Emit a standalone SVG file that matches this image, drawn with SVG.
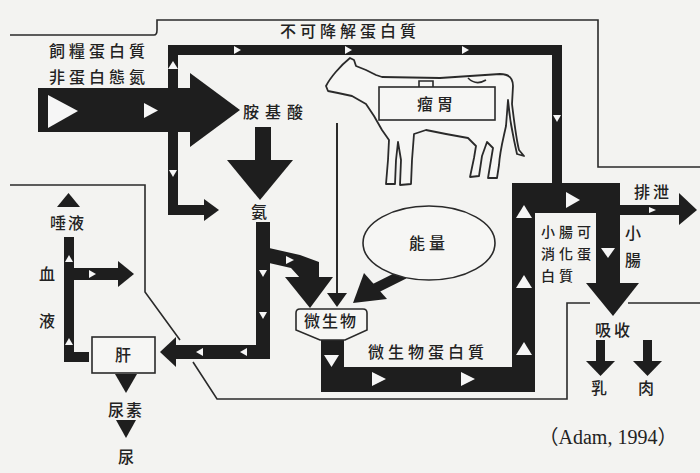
<svg xmlns="http://www.w3.org/2000/svg" width="700" height="473" viewBox="0 0 700 473">
  <defs>
    <style>
      .bg { fill: #f3f3f1; }
      .ink { fill: #1e1e1e; }
      .bar { fill: none; stroke: #1e1e1e; stroke-linejoin: miter; }
      .thin { fill: none; stroke: #2a2a2a; stroke-width: 1.6; }
      .mk { fill: #f6f6f6; }
      .box { fill: #f6f6f4; stroke: #2a2a2a; stroke-width: 1.6; }
      .cow { fill: #f6f6f4; stroke: #2a2a2a; stroke-width: 1.8; stroke-linejoin: round; }
      text { font-family: "Noto Sans CJK TC", "Noto Sans CJK SC", sans-serif; fill: #222; font-size: 16px; font-weight: 500; }
      .c { text-anchor: middle; }
      .sm { font-size: 14px; letter-spacing: 4px; }
      .cite { font-family: "Liberation Serif", "Noto Sans CJK TC", serif; font-size: 20px; font-weight: normal; }
    </style>
  </defs>

  <rect class="bg" x="0" y="0" width="700" height="473"/>

  <!-- boundary lines of the animal body -->
  <g id="boundary">
    <path class="thin" d="M10 35 H154 Q157 35 157 30 V20 H598 V167 H700"/>
    <path class="thin" d="M10 185 H145 V292 L180 340"/>
    <path class="thin" d="M193 362 L217 399 H567 V303 H590"/>
    <path class="thin" d="M628 303 H700"/>
  </g>

  <!-- cow with rumen -->
  <g id="cow">
    <path class="cow" d="M326 86 C330 78 340 66 350 58 L354 60 L356 66 L366 70 L376 75 L382 77 L440 78 L470 76 L500 74 C508 74 513 78 513 86 L512 104 C514 120 516 138 519 150 L524 156 L517 154 L514 140 C511 126 509 112 508 100 L506 126 C503 140 500 150 499 165 L497 178 L488 178 L491 160 L493 148 L487 142 L482 156 L479 176 L470 177 L474 158 L476 146 L468 138 L446 134 L426 130 L414 134 L412 160 L411 184 L400 185 L401 160 L398 142 L396 160 L395 184 L386 184 L388 160 L389 140 L382 130 L374 116 L366 104 L352 96 L338 93 L328 91 Z"/>
    <path class="thin" d="M419 87 V81 H433 V87"/>
    <path class="thin" d="M468 78 Q476 86 486 80"/>
  </g>

  <g id="rumen">
    <rect class="box" x="379" y="87" width="116" height="33"/>
    <text class="c" x="437" y="110" letter-spacing="4">瘤胃</text>
  </g>

  <!-- flow connectors -->
  <g id="connectors">
    <!-- feed protein / NPN into the rumen -->
    <rect class="ink" x="38" y="88" width="154" height="44"/>
    <polygon class="ink" points="190,73 240,110 190,147"/>
    <polygon class="mk" points="48,95 78,111 48,128"/>
    <polygon class="mk" points="144,103 158,110.5 144,118"/>

    <!-- undegradable protein bypass -->
    <path class="bar" stroke-width="10" d="M173 210 V50 H557 V188"/>
    <rect class="ink" x="168" y="205" width="38" height="10"/>
    <polygon class="ink" points="204,199 219,210 204,221"/>
    <polygon class="mk" points="168,69 173,61 178,69"/>
    <polygon class="mk" points="169,170 177,170 173,177"/>
    <polygon class="mk" points="234,46 241,50 234,54"/>
    <polygon class="mk" points="345,46 352,50 345,54"/>
    <polygon class="mk" points="462,46 469,50 462,54"/>
    <polygon class="mk" points="553,115 561,115 557,122"/>

    <!-- amino acids to ammonia -->
    <rect class="ink" x="255" y="127" width="16" height="35"/>
    <polygon class="ink" points="227,160 293,160 260,200"/>

    <!-- ammonia to liver -->
    <path class="bar" stroke-width="14" d="M263 222 V352 H174"/>
    <polygon class="ink" points="176,337 160,352 176,367"/>
    <polygon class="mk" points="259,270 267,270 263,277"/>
    <polygon class="mk" points="259,312 267,312 263,319"/>
    <polygon class="mk" points="247,348 247,356 240,352"/>
    <polygon class="mk" points="203,348 203,356 196,352"/>

    <!-- ammonia to microbes -->
    <polygon class="ink" points="269,248 300,255 319,262 319,279 301,279 291,268 269,263"/>
    <polygon class="ink" points="285,277 333,277 310,308"/>
    <polygon class="mk" points="286,256 294,260 286,264"/>

    <!-- rumen to microbes (thin line) -->
    <line x1="337" y1="123" x2="337" y2="296" stroke="#2a2a2a" stroke-width="2"/>
    <polygon class="ink" points="327,293 347,293 337,307"/>

    <!-- energy to microbes -->
    <line x1="404" y1="274" x2="374" y2="289" stroke="#1e1e1e" stroke-width="10"/>
    <polygon class="ink" points="364,273 387,299 353,303"/>

    <!-- microbial protein to small intestine -->
    <polygon class="ink" points="321,340 344,340 344,367 512,367 512,183 620,183 620,286 596,286 596,213 535,213 535,392 321,392"/>
    <polygon class="ink" points="586,283 639,283 613,316"/>
    <polygon class="mk" points="324,355 339,355 331.5,367"/>
    <polygon class="mk" points="372,372 386,379 372,386"/>
    <polygon class="mk" points="461,372 475,379 461,386"/>
    <polygon class="mk" points="516,355 524,342 532,355"/>
    <polygon class="mk" points="516,288 524,275 532,288"/>
    <polygon class="mk" points="516,218 524,205 532,218"/>
    <polygon class="mk" points="566,192 580,200 566,208"/>
    <polygon class="mk" points="601,248 615,248 608,258"/>

    <!-- excretion -->
    <rect class="ink" x="618" y="205" width="64" height="10"/>
    <polygon class="ink" points="679,193 697,210 679,225"/>
    <polygon class="mk" points="649,207 656,210 649,213"/>

    <!-- absorption to milk and meat -->
    <rect class="ink" x="596" y="340" width="9" height="23"/>
    <polygon class="ink" points="586,361 615,361 600.5,376"/>
    <rect class="ink" x="643" y="340" width="9" height="23"/>
    <polygon class="ink" points="633,361 662,361 647.5,376"/>

    <!-- blood / saliva -->
    <polygon class="ink" points="64,237 74,237 74,268 120,268 120,280 74,280 74,352 89,352 89,362 64,362"/>
    <polygon class="ink" points="118,261 134,274 118,287"/>
    <polygon class="mk" points="65,262 69,255 73,262"/>
    <polygon class="mk" points="65,345 69,338 73,345"/>
    <polygon class="mk" points="89,270 96,274 89,278"/>
    <polygon class="ink" points="57,207 80,207 68.5,193"/>

    <!-- liver to urea to urine -->
    <polygon class="ink" points="115,374 137,374 126,393"/>
    <polygon class="ink" points="116,420 136,420 126,438"/>
  </g>

  <!-- nodes -->
  <g id="feed">
    <text class="c" x="99" y="57" letter-spacing="4">飼糧蛋白質</text>
    <text class="c" x="99" y="83" letter-spacing="4">非蛋白態氮</text>
  </g>
  <g id="undegradable">
    <text x="280" y="37" letter-spacing="4">不可降解蛋白質</text>
  </g>
  <g id="amino-acids">
    <text x="243" y="118" letter-spacing="6">胺基酸</text>
  </g>
  <g id="ammonia">
    <text class="c" x="259" y="218" font-size="14">氨</text>
  </g>
  <g id="energy">
    <ellipse cx="429" cy="243" rx="66" ry="37" class="box"/>
    <text class="c" x="429" y="249" letter-spacing="4">能量</text>
  </g>
  <g id="microbes">
    <path class="box" d="M296 313 Q296 309 300 309 H363 Q367 309 367 313 V330 L345 340 H320 L296 330 Z"/>
    <text class="c" x="331" y="327" letter-spacing="2">微生物</text>
  </g>
  <g id="microbial-protein">
    <text x="368" y="358" letter-spacing="4">微生物蛋白質</text>
  </g>
  <g id="digestible-protein">
    <text class="sm" x="541" y="237">小腸可</text>
    <text class="sm" x="541" y="259">消化蛋</text>
    <text class="sm" x="541" y="281">白質</text>
  </g>
  <g id="small-intestine">
    <text class="c" x="633" y="239">小</text>
    <text class="c" x="633" y="266">腸</text>
  </g>
  <g id="excretion">
    <text class="c" x="653" y="198" letter-spacing="3">排泄</text>
  </g>
  <g id="absorption">
    <text class="c" x="614" y="336" letter-spacing="3">吸收</text>
    <text class="c" x="599" y="394">乳</text>
    <text class="c" x="646" y="394">肉</text>
  </g>
  <g id="saliva">
    <text class="c" x="68" y="229" letter-spacing="2">唾液</text>
  </g>
  <g id="blood">
    <text class="c" x="47" y="280">血</text>
    <text class="c" x="47" y="327">液</text>
  </g>
  <g id="liver">
    <rect class="box" x="92" y="337" width="63" height="36"/>
    <text class="c" x="123" y="361">肝</text>
  </g>
  <g id="urea">
    <text class="c" x="126" y="416" letter-spacing="2">尿素</text>
  </g>
  <g id="urine">
    <text class="c" x="126" y="463">尿</text>
  </g>
  <g id="citation">
    <text class="cite" x="608" y="444" text-anchor="middle">（Adam, 1994）</text>
  </g>
</svg>
